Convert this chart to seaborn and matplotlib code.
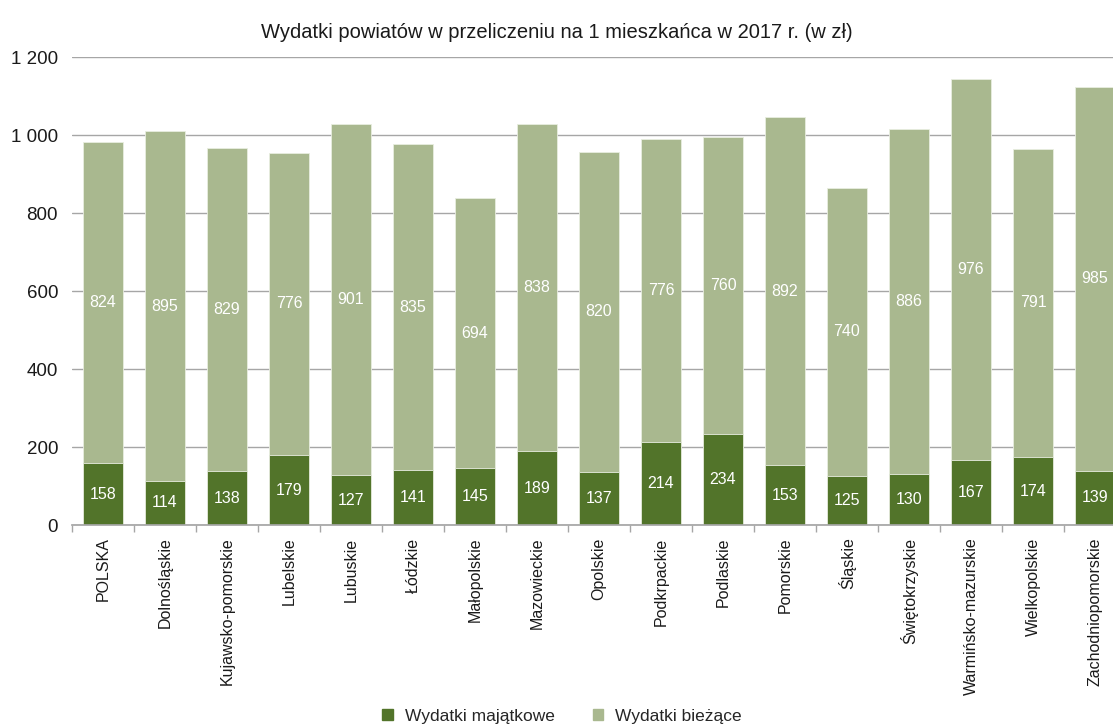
import matplotlib.pyplot as plt
import matplotlib.ticker as mticker
import matplotlib.patches as mpatches
import seaborn as sns
import pandas as pd
import numpy as np

regions = ['POLSKA', 'Dolnośląskie', 'Kujawsko-pomorskie', 'Lubelskie', 'Lubuskie',
           'Łódzkie', 'Małopolskie', 'Mazowieckie', 'Opolskie', 'Podkrpackie',
           'Podlaskie', 'Pomorskie', 'Śląskie', 'Świętokrzyskie',
           'Warmińsko-mazurskie', 'Wielkopolskie', 'Zachodniopomorskie']
majatkowe = [158, 114, 138, 179, 127, 141, 145, 189, 137, 214, 234, 153, 125, 130, 167, 174, 139]
biezace = [824, 895, 829, 776, 901, 835, 694, 838, 820, 776, 760, 892, 740, 886, 976, 791, 985]

DARK = '#52742a'
LIGHT = '#a9b88f'
TXT = '#1a1a1a'

sns.set_theme(style="white")
plt.rcParams['font.family'] = ['Liberation Sans', 'DejaVu Sans']

df = pd.DataFrame({'Region': regions, 'Majatkowe': majatkowe, 'Biezace': biezace})
df['Total'] = df['Majatkowe'] + df['Biezace']

fig = plt.figure(figsize=(11.13, 7.27), dpi=100)
ax = fig.add_axes([72 / 1113, 1 - 525 / 727, 1054 / 1113, 468 / 727])

sns.barplot(ax=ax, data=df, x='Region', y='Total', color=LIGHT, width=0.66,
            saturation=1, edgecolor='#e8ede0', linewidth=0.6, zorder=2)
sns.barplot(ax=ax, data=df, x='Region', y='Majatkowe', color=DARK, width=0.66,
            saturation=1, edgecolor='#e8ede0', linewidth=0.6, zorder=3)

# value labels centred in each segment
for i, (m, b) in enumerate(zip(majatkowe, biezace)):
    ax.text(i, m / 2, str(m), ha='center', va='center', color='white', fontsize=11.5, zorder=4)
    ax.text(i, m + b / 2, str(b), ha='center', va='center', color='white', fontsize=11.5, zorder=4)

ax.set_xlim(-0.5, len(regions) - 0.5)
ax.set_ylim(0, 1200)
ax.yaxis.set_major_locator(mticker.MultipleLocator(200))
ax.yaxis.set_major_formatter(mticker.FuncFormatter(lambda v, p: f'{int(v):,}'.replace(',', ' ')))
ax.grid(axis='y', color='#a6a6a6', linewidth=1, zorder=0)
ax.set_axisbelow(True)

for s in ['top', 'right', 'left']:
    ax.spines[s].set_visible(False)
ax.spines['bottom'].set_color('#a6a6a6')
ax.spines['bottom'].set_zorder(5)

ax.set_xticks(range(len(regions)))
ax.set_xticklabels(regions, rotation=90, fontsize=11.5, color=TXT)
ax.set_xticks(np.arange(-0.5, len(regions), 1), minor=True)
ax.tick_params(axis='x', which='major', length=0, pad=9)
ax.tick_params(axis='x', which='minor', length=5, color='#a6a6a6', width=1, bottom=True)
ax.tick_params(axis='y', length=0, labelsize=13.5, labelcolor=TXT, pad=10)
ax.set_xlabel('')
ax.set_ylabel('')

fig.text(0.5, 1 - 33 / 727, 'Wydatki powiatów w przeliczeniu na 1 mieszkańca w 2017 r. (w zł)',
         ha='center', va='center', fontsize=14.5, color=TXT)

handles = [mpatches.Patch(color=DARK, label='Wydatki majątkowe'),
           mpatches.Patch(color=LIGHT, label='Wydatki bieżące')]
fig.legend(handles=handles, loc='center', bbox_to_anchor=(0.505, 1 - 716 / 727), ncol=2,
           frameon=False, fontsize=12.5, handlelength=0.6, handleheight=0.6,
           handletextpad=0.7, columnspacing=2.2)

fig.savefig('out.png', dpi=100)
plt.close()
